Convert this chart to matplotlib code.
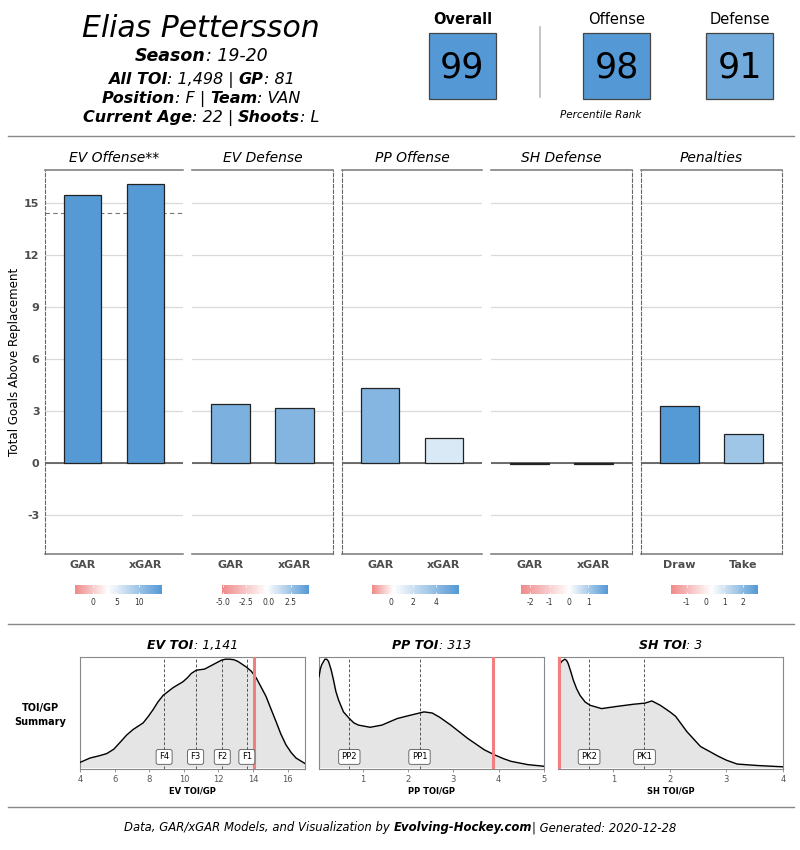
import numpy as np
import matplotlib
matplotlib.use("Agg")
import matplotlib.pyplot as plt
from matplotlib.colors import LinearSegmentedColormap, TwoSlopeNorm
from matplotlib.patches import Rectangle
from matplotlib.lines import Line2D

W, H = 800, 850

# ---- data ----
player = "Elias Pettersson"
season = "19-20"
all_toi, gp = "1,498", "81"
position, team = "F", "VAN"
age, shoots = "22", "L"

rank_labels = ["Overall", "Offense", "Defense"]
rank_values = [99, 98, 91]

panel_titles = ["EV Offense**", "EV Defense", "PP Offense", "SH Defense", "Penalties"]
bar_labels = [["GAR", "xGAR"], ["GAR", "xGAR"], ["GAR", "xGAR"], ["GAR", "xGAR"], ["Draw", "Take"]]
bar_values = [[15.46, 16.1], [3.40, 3.18], [4.33, 1.45], [-0.05, -0.03], [3.29, 1.67]]
ev_off_ref = 14.43

# colour scale limits per panel (low, white point, high) and legend ticks
cb_lo = [-4.1, -5.2, -1.7, -2.5, -1.85]
cb_mid = [3.0, -0.2, 0.2, 0.0, 0.3]
cb_hi = [14.8, 4.5, 6.0, 2.0, 2.75]
cb_ticks = [[0, 5, 10], [-5.0, -2.5, 0.0, 2.5], [0, 2, 4], [-2, -1, 0, 1], [-1, 0, 1, 2]]
cb_fmt = ["{:g}", "{:.1f}", "{:g}", "{:g}", "{:g}"]

# TOI/GP density curves (scaled so peak ~1)
ev_x = [4.0, 4.58, 5.1, 5.54, 5.95, 6.30, 6.7, 7.07, 7.65, 7.95, 8.22, 8.5, 8.80, 9.37, 9.95,
        10.2, 10.43, 10.72, 11.2, 11.68, 12.16, 12.4, 12.64, 12.9, 13.12, 13.6, 13.9, 14.18,
        14.45, 14.75, 15.05, 15.33, 15.6, 15.9, 16.2, 16.48, 17.0]
ev_y = [0.04, 0.08, 0.10, 0.12, 0.16, 0.22, 0.29, 0.34, 0.40, 0.46, 0.52, 0.59, 0.65, 0.72, 0.775,
        0.81, 0.85, 0.88, 0.89, 0.93, 0.97, 0.98, 0.98, 0.975, 0.96, 0.91, 0.87, 0.81,
        0.73, 0.64, 0.52, 0.41, 0.30, 0.20, 0.13, 0.08, 0.03]
pp_x = [0.03, 0.06, 0.09, 0.16, 0.20, 0.24, 0.30, 0.35, 0.40, 0.46, 0.57, 0.70, 0.80, 0.90, 1.16,
        1.42, 1.76, 2.05, 2.35, 2.53, 2.7, 2.94, 3.31, 3.68, 3.90, 4.1, 4.27, 4.64, 5.0]
pp_y = [0.82, 0.89, 0.93, 0.98, 0.98, 0.96, 0.88, 0.79, 0.69, 0.61, 0.50, 0.44, 0.40, 0.38, 0.36,
        0.38, 0.44, 0.47, 0.50, 0.49, 0.45, 0.38, 0.26, 0.155, 0.11, 0.075, 0.05, 0.02, 0.005]
sh_x = [0.02, 0.05, 0.084, 0.14, 0.17, 0.20, 0.25, 0.29, 0.35, 0.41, 0.50, 0.59, 0.79, 1.06,
        1.36, 1.56, 1.68, 1.83, 2.0, 2.10, 2.30, 2.54, 2.7, 2.84, 3.0, 3.19, 3.54, 4.0]
sh_y = [0.87, 0.93, 0.96, 0.98, 0.97, 0.94, 0.86, 0.79, 0.71, 0.65, 0.59, 0.56, 0.53, 0.55,
        0.57, 0.58, 0.60, 0.56, 0.50, 0.46, 0.32, 0.185, 0.14, 0.10, 0.06, 0.025, 0.012, 0.0]

toi_titles = [("EV TOI", "1,141"), ("PP TOI", "313"), ("SH TOI", "3")]
toi_xlabels = ["EV TOI/GP", "PP TOI/GP", "SH TOI/GP"]
toi_curves = [(ev_x, ev_y), (pp_x, pp_y), (sh_x, sh_y)]
toi_player = [14.08, 3.88, 0.037]
toi_lines = [[8.86, 10.68, 12.22, 13.64], [0.70, 2.25], [0.57, 1.55]]
toi_line_labels = [["F4", "F3", "F2", "F1"], ["PP2", "PP1"], ["PK2", "PK1"]]
toi_xlim = [(4, 17), (0.03, 5), (0.02, 4)]
toi_xticks = [[4, 6, 8, 10, 12, 14, 16], [1, 2, 3, 4, 5], [1, 2, 3, 4]]

fig = plt.figure(figsize=(8, 8.5), dpi=100)
renderer = fig.canvas.get_renderer()


def fx(px):
    return px / W


def fy(py):
    return 1 - py / H


def rich(xc, y_base, parts, size, color="black"):
    # draw pieces of bold/regular italic text centred on xc
    texts = []
    for s, bold in parts:
        t = fig.text(0, 0, s, fontsize=size, style="italic", color=color,
                     weight="bold" if bold else "normal", va="baseline", ha="left")
        texts.append(t)
    widths = [t.get_window_extent(renderer).width for t in texts]
    x0 = xc - sum(widths) / 2
    for t, w in zip(texts, widths):
        t.set_position((fx(x0), fy(y_base)))
        x0 += w


# ---- header ----
fig.text(fx(201), fy(37), player, fontsize=21.5, style="italic", ha="center", va="baseline")
rich(201, 61, [("Season", True), (": " + season, False)], 12.5)
rich(201, 83.5, [("All TOI", True), (": " + all_toi + " | ", False), ("GP", True), (": " + gp, False)], 11.5)
rich(201, 103, [("Position", True), (": " + position + " | ", False), ("Team", True), (": " + team, False)], 11.5)
rich(201, 122, [("Current Age", True), (": " + age + " | ", False), ("Shoots", True), (": " + shoots, False)], 11.5)

box_x = [429, 583, 706]
box_col = ["#5499d5", "#5499d5", "#72aadc"]
for lab, val, bx, col in zip(rank_labels, rank_values, box_x, box_col):
    fig.patches.append(Rectangle((fx(bx), fy(99)), 67 / W, 66 / H, transform=fig.transFigure,
                                 facecolor=col, edgecolor="#444444", lw=0.9))
    fig.text(fx(bx + 33.5), fy(67), str(val), fontsize=25, ha="center", va="center")
    fig.text(fx(bx + 33.5), fy(19), lab, fontsize=10.5, ha="center", va="center",
             weight="bold" if lab == "Overall" else "normal")
fig.lines.append(Line2D([fx(540), fx(540)], [fy(27), fy(97)], transform=fig.transFigure,
                        color="#bbbbbb", lw=1.2))
fig.text(fx(601), fy(115), "Percentile Rank", fontsize=7.5, style="italic", ha="center", va="center")

for yy in [136, 624, 807]:
    fig.lines.append(Line2D([fx(8), fx(794)], [fy(yy), fy(yy)], transform=fig.transFigure,
                            color="#888888", lw=1))

# ---- GAR panels ----
cmap = LinearSegmentedColormap.from_list("rwb", ["#f08a8a", "#ffffff", "#5599d5"])
panel_left = [45, 192, 342, 491, 641]
panel_w = [138, 141, 140, 141, 141]
left_dashed = [True, False, True, False, True]
right_dashed = [False, True, False, True, True]
yticks = [-3, 0, 3, 6, 9, 12, 15]

for i in range(5):
    ax = fig.add_axes([fx(panel_left[i]), fy(554), panel_w[i] / W, 384 / H])
    norm = TwoSlopeNorm(vcenter=cb_mid[i], vmin=cb_lo[i], vmax=cb_hi[i])
    vals = np.array(bar_values[i])
    cols = cmap(norm(np.clip(vals, cb_lo[i], cb_hi[i])))
    ax.set_ylim(-5.25, 16.9)
    ax.set_xlim(0.4, 2.6)
    for t in yticks:
        ax.axhline(t, color="#d9d9d9", lw=0.9, zorder=0)
    ax.axhline(0, color="#555555", lw=1.2, zorder=1)
    ax.bar([1, 2], vals, width=0.6, color=cols, edgecolor="#222222", lw=0.9, zorder=2)
    if i == 0:
        ax.axhline(ev_off_ref, color="#777777", lw=0.8, ls=(0, (4, 3)), zorder=1)
    ax.set_xticks([1, 2])
    ax.set_xticklabels(bar_labels[i], fontsize=8, weight="bold", color="#4d4d4d")
    ax.set_yticks(yticks)
    if i == 0:
        ax.set_yticklabels([str(t) for t in yticks], fontsize=8, weight="bold", color="#4d4d4d")
    else:
        ax.set_yticklabels([])
    ax.tick_params(length=0, pad=4)
    ax.spines["top"].set_color("#777777")
    ax.spines["bottom"].set_color("#777777")
    ax.spines["top"].set_linewidth(1.1)
    ax.spines["bottom"].set_linewidth(1.1)
    for side, dashed in [("left", left_dashed[i]), ("right", right_dashed[i])]:
        if dashed:
            ax.spines[side].set_linestyle((0, (3, 2)))
            ax.spines[side].set_color("#666666")
            ax.spines[side].set_linewidth(0.8)
        else:
            ax.spines[side].set_visible(False)
    fig.text(fx(panel_left[i] + panel_w[i] / 2), fy(158), panel_titles[i], fontsize=10,
             style="italic", ha="center", va="center")

    # colour legend
    cax = fig.add_axes([fx(panel_left[i] + 29.5), fy(594), 87 / W, 9 / H])
    grad = np.linspace(cb_lo[i], cb_hi[i], 256)
    cax.imshow(grad[None, :], aspect="auto", cmap=cmap, norm=norm,
               extent=[cb_lo[i], cb_hi[i], 0, 1])
    cax.vlines(cb_ticks[i], 0, 0.2, color="white", lw=0.6)
    cax.vlines(cb_ticks[i], 0.8, 1, color="white", lw=0.6)
    cax.set_xlim(cb_lo[i], cb_hi[i])
    cax.set_xticks(cb_ticks[i])
    cax.set_xticklabels([cb_fmt[i].format(t) for t in cb_ticks[i]], fontsize=5.5, color="#333333")
    cax.set_yticks([])
    cax.tick_params(length=0, pad=3)
    for s in cax.spines.values():
        s.set_visible(False)

fig.text(fx(15), fy(362), "Total Goals Above Replacement", fontsize=8.6, rotation=90,
         ha="center", va="center")

# ---- TOI/GP density panels ----
dens_left = [80, 319, 558]
for i in range(3):
    ax = fig.add_axes([fx(dens_left[i]), fy(769), 225 / W, 112 / H])
    xs, ys = toi_curves[i]
    ax.fill_between(xs, 0, ys, color="#e5e5e5", zorder=1)
    ax.plot(xs, ys, color="black", lw=1, zorder=3)
    for xl, lab in zip(toi_lines[i], toi_line_labels[i]):
        ax.axvline(xl, color="#555555", lw=0.7, ls=(0, (3, 2)), zorder=2)
        ax.text(xl, 0.09, lab, fontsize=6, ha="center", va="center", zorder=5,
                bbox=dict(boxstyle="round,pad=0.35,rounding_size=0.25", fc="white", ec="#555555", lw=0.6))
    ax.axvline(toi_player[i], color="#f08080", lw=2.2, zorder=4)
    ax.set_xlim(*toi_xlim[i])
    ax.set_ylim(-0.02, 1.0)
    ax.set_xticks(toi_xticks[i])
    ax.set_xticklabels([str(t) for t in toi_xticks[i]], fontsize=6, color="#555555")
    ax.set_yticks([])
    ax.tick_params(length=2, width=0.6, color="#888888", pad=2)
    ax.set_xlabel(toi_xlabels[i], fontsize=6, weight="bold", labelpad=2)
    for s in ax.spines.values():
        s.set_color("#888888")
        s.set_linewidth(0.8)
    rich(dens_left[i] + 112.5, 649, [(toi_titles[i][0], True), (": " + toi_titles[i][1], False)], 9)

fig.text(fx(40), fy(708), "TOI/GP", fontsize=7, weight="bold", ha="center", va="center")
fig.text(fx(40), fy(722), "Summary", fontsize=7, weight="bold", ha="center", va="center")

rich(400, 831, [("Data, GAR/xGAR Models, and Visualization by ", False), ("Evolving-Hockey.com", True),
                ("| Generated: 2020-12-28", False)], 8.4)

fig.savefig("out.png", dpi=100)
